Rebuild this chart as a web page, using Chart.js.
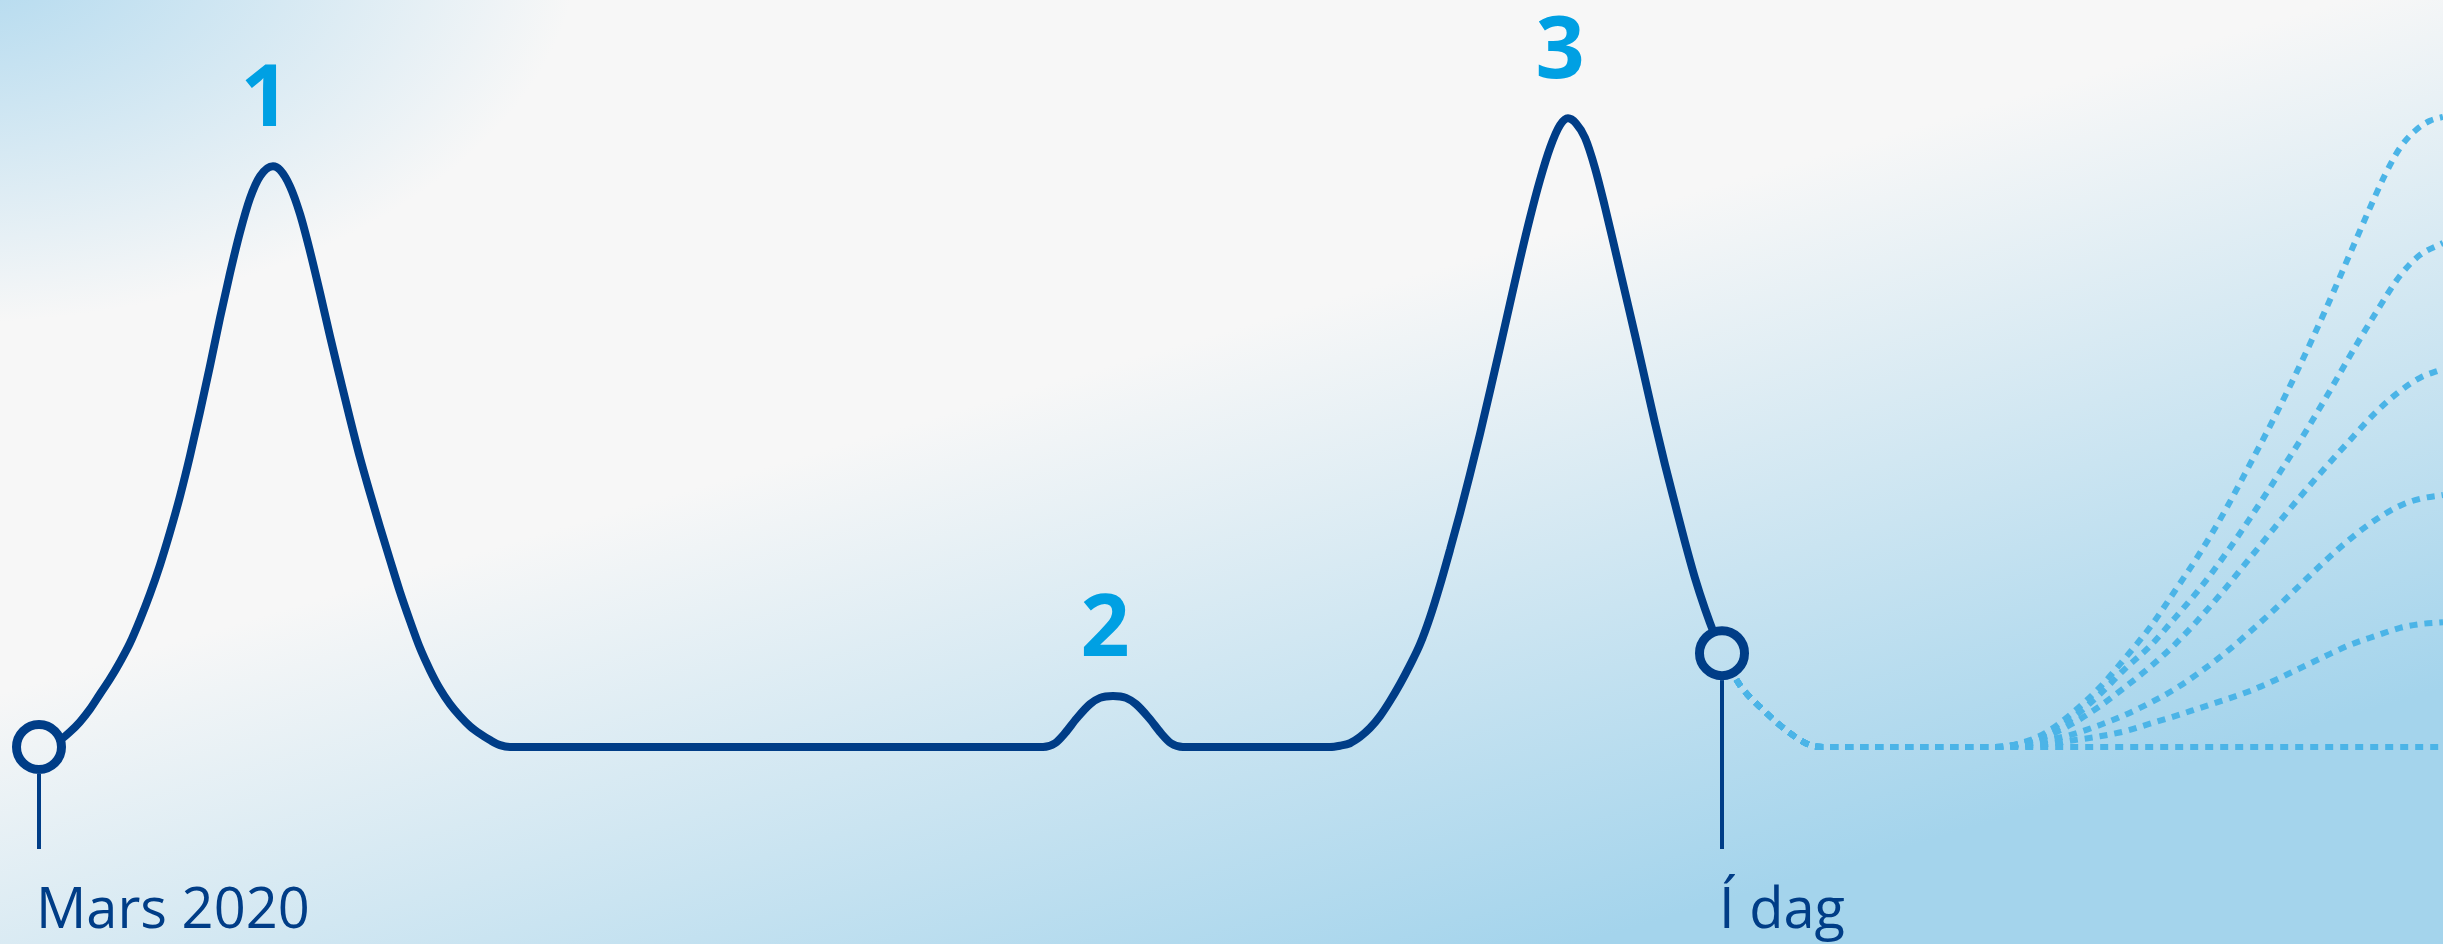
<!DOCTYPE html>
<html>
<head>
<meta charset="utf-8">
<script src="https://cdn.jsdelivr.net/npm/chart.js@4/dist/chart.umd.min.js"></script>
<style>
  html, body { margin: 0; padding: 0; overflow: hidden; background: #f7f7f7; }
  #wrap { position: relative; width: 100vw; height: 100vh; }
</style>
</head>
<body>
<div id="wrap"><canvas id="chart_waves"></canvas></div>
<script>
// time axis in weeks-ish units from March 2020, values relative to wave 3 (= 100)
const waveT = [0, 1.1, 2.1, 3.1, 4.1, 5.1, 6.1, 7.1, 8.1, 9.1, 10.1, 11.1, 12.1, 13.1, 14.1, 15.1, 16.1, 17.1,
  18.1, 19.1, 20.1, 21.1, 22.1, 23.4, 24.1, 25.1, 26.1, 27.1, 28.1, 29.1, 30.1, 31.1, 32.1, 33.1, 34.1, 35.1,
  36.1, 37.1, 38.1, 39.1, 40.1, 41.1, 42.1, 43.1, 44.1, 45.1, 46.1, 47.1,
  100.4, 101.6, 102.6, 103.8, 105.1, 106.1, 107.4, 108.7, 109.7, 111.0, 112.2, 113.2, 114.4,
  129.1, 130.1, 131.1, 132.1, 133.1, 134.1, 135.1, 136.1, 137.1, 138.1, 139.1, 140.1, 141.1, 142.1, 143.1,
  144.1, 145.1, 146.1, 147.1, 148.1, 149.1, 150.1, 151.1, 152.1, 152.9, 153.7, 154.6, 155.6, 156.6, 157.6,
  158.6, 159.6, 160.6, 161.6, 162.6, 163.6, 164.6, 165.6, 166.6, 167.6, 168.3];
const waveCases = [0, 0.3, 1.1, 2.4, 4.0, 6.0, 8.4, 10.8, 13.5, 16.5, 20.2, 24.3, 28.9, 34.1, 39.8, 46.2, 53.2, 60.5,
  68.1, 75.2, 81.7, 87.1, 90.6, 92.2, 91.6, 89.0, 84.6, 78.7, 72.1, 65.2, 58.6, 52.1, 45.9, 40.3, 34.9, 29.7,
  24.6, 20.0, 15.7, 12.2, 9.2, 6.8, 4.9, 3.3, 2.1, 1.1, 0.3, 0,
  0, 0.6, 2.2, 4.6, 6.8, 7.8, 8.1, 7.8, 6.8, 4.6, 2.2, 0.6, 0,
  0, 0.2, 0.6, 1.6, 3.0, 4.9, 7.3, 10.0, 13.0, 16.3, 20.6, 25.7, 31.3, 37.1, 43.3,
  49.7, 56.5, 63.4, 70.4, 77.4, 84.0, 90.0, 95.1, 98.7, 99.8, 99.0, 96.7, 91.9, 85.7, 79.0,
  72.2, 65.4, 58.4, 51.4, 44.8, 38.6, 32.5, 26.8, 21.9, 17.6, 14.9];

const peakLabels = ['1', '2', '3'];
const peakT = [23.4, 107.4, 152.9];

const markerLabels = ['Mars 2020', 'Í dag'];
const markerT = [0, 168.3];
const markerCases = [0, 14.9];

// projection from today, shared start
const leadT = [168.3, 170.1, 172.4, 175.1, 177.1, 178.4, 195.6];
const leadCases = [14.9, 9.8, 5.9, 2.2, 0.3, 0, 0];

const flatT = [240.4];
const flatCases = [0];
const s20T = [198.6, 201.1, 203.6, 206.1, 208.6, 211.1, 213.6, 216.1, 218.6, 221.1, 223.6, 226.1, 228.6, 231.1, 233.6, 236.1, 238.1, 240.4];
const s20Cases = [0.2, 0.5, 1.1, 1.7, 2.5, 3.7, 4.9, 6.2, 7.5, 8.9, 10.6, 12.5, 14.4, 16.2, 17.6, 18.9, 19.5, 19.8];
const s40T = [198.1, 200.6, 203.1, 206.1, 208.6, 211.1, 213.6, 216.1, 218.6, 221.1, 223.6, 226.1, 228.6, 231.1, 233.6, 236.1, 238.1, 240.4];
const s40Cases = [0.3, 1.0, 1.9, 3.5, 5.1, 7.0, 9.2, 11.9, 14.9, 18.3, 21.9, 25.7, 29.5, 33.0, 36.0, 38.3, 39.4, 40.0];
const s60T = [198.1, 200.6, 203.1, 206.1, 208.6, 211.1, 213.6, 216.1, 218.6, 221.1, 223.6, 226.1, 228.6, 231.1, 233.6, 236.1, 238.1, 240.4];
const s60Cases = [0.5, 1.6, 3.5, 6.5, 9.5, 12.7, 16.3, 20.5, 25.1, 30.0, 34.9, 39.7, 44.3, 48.7, 53.0, 56.5, 58.6, 60.0];
const s80T = [198.1, 200.6, 203.1, 206.1, 208.6, 211.1, 213.6, 216.1, 218.6, 221.1, 223.6, 226.1, 228.6, 231.1, 233.6, 236.1, 238.1, 240.4];
const s80Cases = [0.5, 1.9, 4.3, 8.4, 12.4, 16.0, 20.5, 25.2, 30.5, 36.3, 42.4, 48.6, 55.2, 62.1, 68.7, 74.8, 78.1, 80.0];
const s100T = [198.1, 200.6, 203.1, 206.1, 208.6, 211.1, 213.6, 216.1, 218.6, 221.1, 223.6, 226.1, 228.6, 231.1, 233.1, 234.6, 236.1, 237.6, 239.1, 240.4];
const s100Cases = [0.6, 2.2, 5.1, 9.5, 14.1, 19.0, 24.8, 30.8, 37.5, 44.9, 52.5, 60.6, 69.2, 78.3, 85.6, 90.8, 95.1, 97.8, 99.4, 100];

const NAVY = '#003d87';
const CYAN = '#00a0e3';
const DOTS = '#4bb4e7';

const toPoints = (ts, vs) => ts.map((t, i) => ({ x: t, y: vs[i] }));

const paintBackground = (w, h) => {
  const c = document.createElement('canvas');
  c.width = w;
  c.height = h;
  const g = c.getContext('2d');
  g.fillStyle = '#f7f7f7';
  g.fillRect(0, 0, w, h);
  const lin = g.createLinearGradient(0.41 * w, 0.42 * h, 0.49 * w, 1.12 * h);
  lin.addColorStop(0, 'rgba(164,212,236,0)');
  lin.addColorStop(1, 'rgba(164,212,236,1)');
  g.fillStyle = lin;
  g.fillRect(0, 0, w, h);
  g.save();
  g.scale(1, 0.6);
  const rad = g.createRadialGradient(-60, -100, 0, -60, -100, 640);
  rad.addColorStop(0, 'rgba(172,215,238,1)');
  rad.addColorStop(0.4, 'rgba(172,215,238,0.6)');
  rad.addColorStop(1, 'rgba(172,215,238,0)');
  g.fillStyle = rad;
  g.fillRect(0, 0, w, h / 0.6);
  g.restore();
  return g.createPattern(c, 'no-repeat');
};

const wrap = document.getElementById('wrap');
const bgPattern = paintBackground(wrap.clientWidth, wrap.clientHeight);

const scenario = (ts, vs) => ({
  data: toPoints(leadT.concat(ts), leadCases.concat(vs)),
  borderColor: DOTS,
  borderWidth: 6,
  borderDash: [8, 7],
  borderCapStyle: 'butt',
  pointRadius: 0,
  cubicInterpolationMode: 'monotone',
  order: 3
});

const background = {
  id: 'background',
  beforeDraw(chart) {
    const { ctx, width, height } = chart;
    ctx.save();
    ctx.fillStyle = bgPattern;
    ctx.fillRect(0, 0, width, height);
    ctx.restore();
  }
};

const annotations = {
  id: 'annotations',
  afterDatasetsDraw(chart) {
    const { ctx, scales: { x, y } } = chart;
    ctx.save();
    // wave numbers
    ctx.fillStyle = CYAN;
    ctx.font = 'bold 86px "Open Sans", sans-serif';
    ctx.textAlign = 'center';
    ctx.textBaseline = 'alphabetic';
    peakLabels.forEach((lbl, i) => {
      const idx = waveT.indexOf(peakT[i]);
      ctx.fillText(lbl, x.getPixelForValue(peakT[i]) - 8, y.getPixelForValue(waveCases[idx]) - 40);
    });
    // stems + date labels
    ctx.strokeStyle = NAVY;
    ctx.fillStyle = NAVY;
    ctx.lineWidth = 4;
    ctx.font = '56px "Open Sans", sans-serif';
    ctx.textAlign = 'left';
    markerLabels.forEach((lbl, i) => {
      const px = x.getPixelForValue(markerT[i]);
      const py = y.getPixelForValue(markerCases[i]);
      ctx.beginPath();
      ctx.moveTo(px, py + 27);
      ctx.lineTo(px, 849);
      ctx.stroke();
      ctx.fillText(lbl, px - 3, 928);
    });
    ctx.restore();
  }
};

new Chart(document.getElementById('chart_waves'), {
  type: 'line',
  data: {
    datasets: [
      {
        data: toPoints(markerT, markerCases),
        showLine: false,
        pointRadius: 22.5,
        pointBorderWidth: 9,
        pointBorderColor: NAVY,
        pointBackgroundColor: bgPattern,
        order: 0
      },
      {
        data: toPoints(waveT, waveCases),
        borderColor: NAVY,
        borderWidth: 8,
        borderJoinStyle: 'round',
        borderCapStyle: 'round',
        pointRadius: 0,
        cubicInterpolationMode: 'monotone',
        order: 2
      },
      scenario(flatT, flatCases),
      scenario(s20T, s20Cases),
      scenario(s40T, s40Cases),
      scenario(s60T, s60Cases),
      scenario(s80T, s80Cases),
      scenario(s100T, s100Cases)
    ]
  },
  options: {
    responsive: true,
    maintainAspectRatio: false,
    animation: false,
    events: [],
    layout: { padding: 0, autoPadding: false },
    plugins: { legend: { display: false }, tooltip: { enabled: false } },
    scales: {
      x: { type: 'linear', min: -3.9, max: 240.4, display: false },
      y: { min: -31.27, max: 118.57, display: false }
    }
  },
  plugins: [background, annotations]
});
</script>
</body>
</html>
